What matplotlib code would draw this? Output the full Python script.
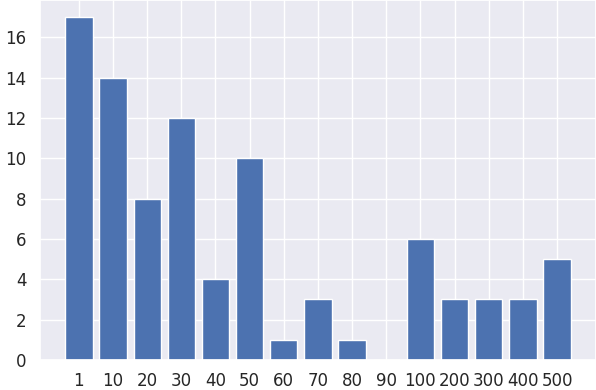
import matplotlib
matplotlib.use("Agg")
import matplotlib.pyplot as plt
import seaborn as sns

categories = ["1", "10", "20", "30", "40", "50", "60", "70", "80", "90",
              "100", "200", "300", "400", "500"]
counts = [17, 14, 8, 12, 4, 10, 1, 3, 1, 0, 6, 3, 3, 3, 5]

sns.set_theme(style="darkgrid")
plt.rcParams["font.family"] = ["DejaVu Sans"]

fig = plt.figure(figsize=(5.96, 3.90), dpi=100)
ax = fig.add_axes([0.067, 0.077, 0.933, 0.923])
ax.bar(range(len(categories)), counts, width=0.8, color="#4C72B0",
       edgecolor="white", linewidth=1)
ax.set_xticks(range(len(categories)))
ax.set_xticklabels(categories)
ax.tick_params(axis="x", pad=3, labelsize=12)
ax.tick_params(axis="y", labelsize=12)
ax.set_yticks(range(0, 17, 2))

fig.savefig("out.png", dpi=100)
